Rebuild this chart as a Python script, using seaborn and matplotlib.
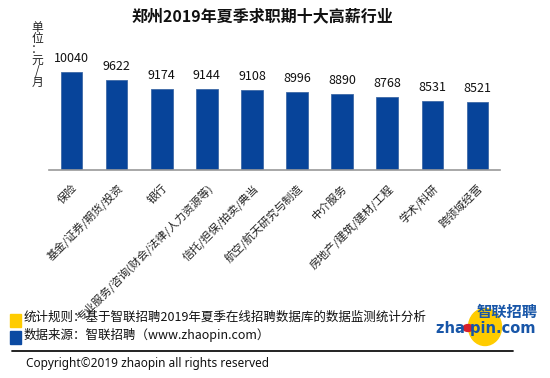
import numpy as np
import pandas as pd
import matplotlib
matplotlib.use('Agg')
import matplotlib.pyplot as plt
import seaborn as sns
from matplotlib.patches import Rectangle, Ellipse, Circle

# ---------------- data ----------------
industries = ['保险', '基金/证券/期货/投资', '银行', '专业服务/咨询(财会/法律/人力资源等)',
              '信托/担保/拍卖/典当', '航空/航天研究与制造', '中介服务',
              '房地产/建筑/建材/工程', '学术/科研', '跨领域经营']
salaries = [10040, 9622, 9174, 9144, 9108, 8996, 8890, 8768, 8531, 8521]

df = pd.DataFrame({'industry': industries, 'salary': salaries})

# ---------------- style ----------------
sns.set_style('white')
plt.rcParams['font.family'] = ['Noto Sans CJK SC', 'DejaVu Sans']
bar_color = '#07449a'

W, H = 550, 378
fig = plt.figure(figsize=(5.5, 3.78), dpi=100)
# axes placed in pixel terms: x 49..500, y 40..170
ax = fig.add_axes([49 / W, 1 - 170 / H, 451 / W, 130 / H])

sns.barplot(data=df, x='industry', y='salary', color=bar_color, width=0.48,
            saturation=1, edgecolor='#3f6aa6', linewidth=0.6, ax=ax)

ax.set_ylim(5000, 11686)
ax.set_xlim(-0.5, len(industries) - 0.5)

# value labels
for c in ax.containers:
    ax.bar_label(c, labels=[str(v) for v in salaries], padding=5, fontsize=9,
                 color='#111111')

# axes formatting
sns.despine(ax=ax, left=True, top=True, right=True)
ax.spines['bottom'].set_color('#9a9a9a')
ax.spines['bottom'].set_linewidth(1.2)
ax.set_yticks([])
ax.set_xlabel('')
ax.set_ylabel('')
ax.set_xticks(np.arange(len(industries)))
ax.set_xticklabels(industries, rotation=45, ha='right', va='top',
                   rotation_mode='anchor', fontsize=8, color='#222222')
ax.tick_params(axis='x', which='major', length=0, pad=9)
ax.set_xticks(np.arange(len(industries) + 1) - 0.5, minor=True)
ax.tick_params(axis='x', which='minor', length=4, width=1, color='#9a9a9a',
               direction='out')

# title and unit label
fig.text(262 / W, 1 - 16 / H, '郑州2019年夏季求职期十大高薪行业', ha='center',
         va='center', fontsize=11.5, fontweight='bold', color='#111111')
fig.text(37 / W, 1 - 55 / H, '单\n位\n：\n元\n/\n月', ha='center', va='center',
         fontsize=8.5, linespacing=0.78, color='#222222')

# footer notes
fig.patches.append(Rectangle((10 / W, 1 - 327 / H), 11 / W, 13 / H,
                             transform=fig.transFigure, color='#ffcc00'))
fig.patches.append(Rectangle((10 / W, 1 - 344 / H), 11 / W, 13 / H,
                             transform=fig.transFigure, color='#0b4aa2'))
fig.text(24 / W, 1 - 317 / H, '统计规则：基于智联招聘2019年夏季在线招聘数据库的数据监测统计分析',
         ha='left', va='center', fontsize=9, color='#111111')
fig.text(24 / W, 1 - 335 / H, '数据来源：智联招聘（www.zhaopin.com）',
         ha='left', va='center', fontsize=9, color='#111111')
fig.add_artist(plt.Line2D([12 / W, 513 / W], [1 - 351 / H, 1 - 351 / H],
                          transform=fig.transFigure, color='#111111', lw=1.3))
fig.text(26 / W, 1 - 363 / H, 'Copyright©2019 zhaopin all rights reserved',
         ha='left', va='center', fontsize=8.5, color='#111111',
         family=['Noto Sans', 'DejaVu Sans'])

# logo
fig.patches.append(Ellipse((485 / W, 1 - 327 / H), 33 / W, 37 / H,
                           transform=fig.transFigure, color='#ffcc00'))
fig.text(507 / W, 1 - 312 / H, '智联招聘', ha='center', va='center', fontsize=11,
         fontweight='bold', style='italic', color='#1856a8')
fig.text(486 / W, 1 - 328 / H, 'zha pin.com', ha='center', va='center',
         fontsize=10.5, fontweight='bold', color='#1856a8',
         family=['DejaVu Sans'])
fig.patches.append(Circle((468 / W, 1 - 328 / H), 5 / W,
                          transform=fig.transFigure, color='#d8202a'))

fig.savefig('out.png', dpi=100)
